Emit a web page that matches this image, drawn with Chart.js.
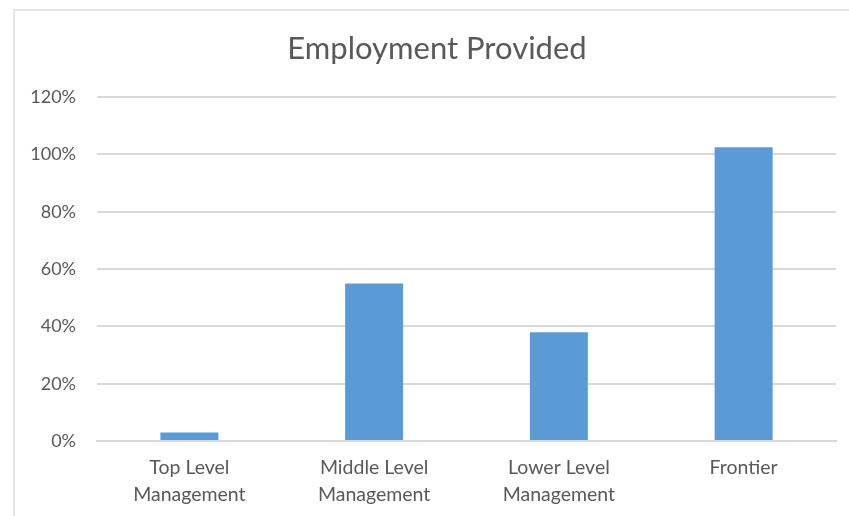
<!DOCTYPE html>
<html>
<head>
<meta charset="utf-8">
<title>Employment Provided</title>
<script src="https://cdn.jsdelivr.net/npm/chart.js@4.4.1/dist/chart.umd.min.js"></script>
<style>
  html, body { margin: 0; padding: 0; background: #fff; }
  .frame {
    position: absolute; left: 13px; top: 9px;
    width: 860px; height: 540px;
    border: 2px solid #e6e6e6;
  }
  .chart-box { position: absolute; left: 0; top: 0; width: 849px; height: 516px; }
</style>
</head>
<body>
<div class="frame"></div>
<div class="chart-box"><canvas id="employmentChart"></canvas></div>
<script>
const categories = [
    ["Top Level", "Management"],
    ["Middle Level", "Management"],
    ["Lower Level", "Management"],
    ["Frontier"]
];
const shareEmployed = [3, 55, 38, 102.5];
const yTicks = [0, 20, 40, 60, 80, 100, 120];

const textColor = "#595959";
const gridColor = "#d9d9d9";
const fontFamily = "Lato, 'Open Sans', sans-serif";

// centre the title inside the framed box rather than over the whole canvas
const titleShift = {
    id: "titleShift",
    afterLayout(chart) {
        if (chart.titleBlock) {
            chart.titleBlock.left += 38;
        }
    }
};

const ctx = document.getElementById("employmentChart").getContext("2d");

new Chart(ctx, {
    type: "bar",
    data: {
        labels: categories,
        datasets: [{
            label: "Employment Provided",
            data: shareEmployed,
            backgroundColor: "#5b9bd5",
            barPercentage: 1,
            categoryPercentage: 0.314
        }]
    },
    options: {
        responsive: true,
        maintainAspectRatio: false,
        animation: false,
        layout: { padding: { left: 0, right: 13, top: 0, bottom: 0 } },
        plugins: {
            legend: { display: false },
            tooltip: { enabled: false },
            title: {
                display: true,
                text: "Employment Provided",
                color: textColor,
                font: { family: fontFamily, size: 31, weight: "normal", lineHeight: 1.2 },
                padding: { top: 30, bottom: 30 }
            }
        },
        scales: {
            x: {
                grid: { display: false },
                border: { display: true, color: gridColor, width: 2 },
                ticks: {
                    color: textColor,
                    padding: 5,
                    maxRotation: 0,
                    autoSkip: false,
                    font: { family: fontFamily, size: 19.5, lineHeight: 1.4 }
                },
                afterFit: (scale) => { scale.height = 75; }
            },
            y: {
                min: 0,
                max: 120,
                afterBuildTicks: (scale) => {
                    scale.ticks = yTicks.map(v => ({ value: v }));
                },
                grid: { color: gridColor, lineWidth: 2, drawTicks: false },
                border: { display: false },
                ticks: {
                    color: textColor,
                    padding: 21,
                    font: { family: fontFamily, size: 18 },
                    callback: (value) => value + "%"
                },
                afterFit: (scale) => { scale.width = 97; }
            }
        }
    },
    plugins: [titleShift]
});
</script>
</body>
</html>
